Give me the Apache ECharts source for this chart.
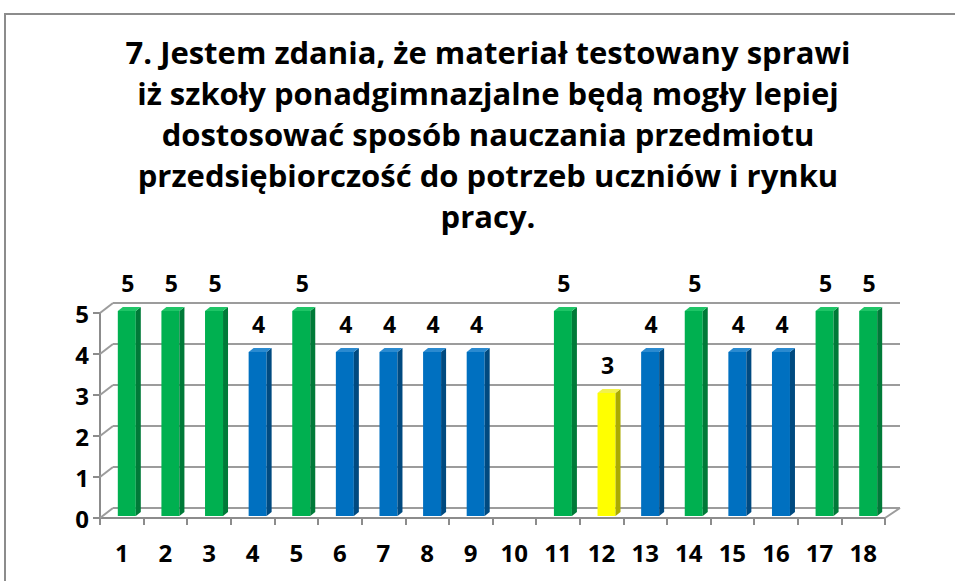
<!DOCTYPE html>
<html>
<head>
<meta charset="utf-8">
<script src="https://cdn.jsdelivr.net/npm/echarts@6/dist/echarts.min.js"></script>
<style>
html,body{margin:0;padding:0;background:#fff;}
#frame{position:absolute;left:4px;top:13px;width:960px;height:580px;border:2px solid #8c8c8c;box-sizing:border-box;}
#main{position:absolute;left:0;top:0;width:955px;height:581px;}
</style>
</head>
<body>
<div id="frame"></div>
<div id="main"></div>
<script>
const titleLines = [
  '7. Jestem zdania, że materiał testowany sprawi',
  'iż szkoły ponadgimnazjalne będą mogły lepiej',
  'dostosować sposób nauczania przedmiotu',
  'przedsiębiorczość do potrzeb uczniów i rynku',
  'pracy.'
];
const categories = ['1','2','3','4','5','6','7','8','9','10','11','12','13','14','15','16','17','18'];
const values = [5,5,5,4,5,4,4,4,4,null,5,3,4,5,4,4,5,5];
const yTicks = [0,1,2,3,4,5];

const palette = {
  5: {front:'#00B050', side:'#007A38', top:'#1FC567'},
  4: {front:'#0070C0', side:'#004A80', top:'#2A8AD0'},
  3: {front:'#FFFF00', side:'#ABAB00', top:'#F2F24A'}
};
const FONT = '"Open Sans"';
const DX = 13, DY = -10;

const chart = echarts.init(document.getElementById('main'), null, {renderer:'svg'});

chart.setOption({
  animation:false,
  title:{
    text: titleLines.join('\n'),
    left: 483, top: 26, textAlign:'center',
    textStyle:{fontFamily:FONT, fontWeight:'bold', fontSize:31, lineHeight:41, color:'#000'}
  },
  grid:[
    {left:100, right:70, top:313, bottom:63},
    {left:113, right:55, top:303, bottom:73}
  ],
  xAxis:[
    {type:'category', gridIndex:0, data:categories,
     axisLine:{show:true, lineStyle:{color:'#8c8c8c', width:2}},
     axisTick:{show:true, length:7, lineStyle:{color:'#8c8c8c', width:2}},
     axisLabel:{margin:22, fontFamily:FONT, fontWeight:'bold', fontSize:24, color:'#000'}},
    {type:'category', gridIndex:1, data:categories, show:false}
  ],
  yAxis:[
    {type:'value', gridIndex:0, min:0, max:5, interval:1,
     axisLine:{show:true, lineStyle:{color:'#8c8c8c', width:2}},
     axisTick:{show:true, length:7, lineStyle:{color:'#8c8c8c', width:2}},
     splitLine:{show:false},
     axisLabel:{margin:11, fontFamily:FONT, fontWeight:'bold', fontSize:24, color:'#000'}},
    {type:'value', gridIndex:1, min:0, max:5, interval:1,
     axisLine:{show:false}, axisTick:{show:false}, axisLabel:{show:false},
     splitLine:{show:true, lineStyle:{color:'#9c9c9c', width:2}}}
  ],
  series:[
    {
      type:'custom', xAxisIndex:0, yAxisIndex:0, silent:true,
      data: yTicks.map(v => [0, v]),
      renderItem(params, api){
        const p = api.coord([0, api.value(1)]);
        const x0 = params.coordSys.x;
        const shapes = [{
          type:'line', shape:{x1:x0, y1:p[1], x2:x0+DX, y2:p[1]+DY},
          style:{stroke:'#9c9c9c', lineWidth:2}
        }];
        if (api.value(1) === 0) {
          const xr = params.coordSys.x + params.coordSys.width;
          shapes.push({type:'line', shape:{x1:xr, y1:p[1], x2:xr+DX+2, y2:p[1]+DY},
            style:{stroke:'#9c9c9c', lineWidth:2}});
        }
        return {type:'group', children:shapes};
      }
    },
    {
      type:'custom', xAxisIndex:0, yAxisIndex:0, silent:true,
      data: values.map((v,i) => [i, v]),
      renderItem(params, api){
        const v = api.value(1);
        if (v === null || isNaN(v)) return null;
        const top = api.coord([api.value(0), v]);
        const bot = api.coord([api.value(0), 0]);
        const cx = top[0] + 5;
        const w = 18, d = 5, h = 4;
        const x0 = cx - w/2, x1 = cx + w/2;
        const yt = top[1] - 2, yb = bot[1] - 2;
        const c = palette[v];
        return {type:'group', children:[
          {type:'rect', shape:{x:x0, y:yt, width:w, height:yb-yt}, style:{fill:c.front}},
          {type:'polygon', shape:{points:[[x1,yt],[x1+d,yt-h],[x1+d,yb-h],[x1,yb]]}, style:{fill:c.side}},
          {type:'polygon', shape:{points:[[x0,yt],[x0+d,yt-h],[x1+d,yt-h],[x1,yt]]}, style:{fill:c.top}},
          {type:'text', style:{x:cx+1, y:yt-17, text:String(v), textAlign:'center', textVerticalAlign:'bottom',
            font:'bold 23px ' + FONT, fill:'#000'}}
        ]};
      }
    }
  ]
});
</script>
</body>
</html>
